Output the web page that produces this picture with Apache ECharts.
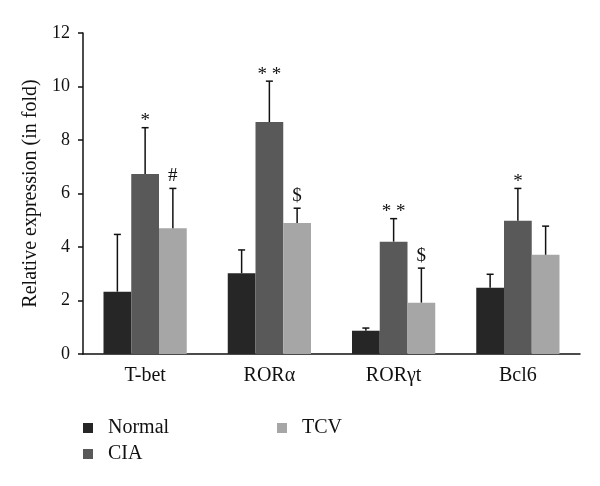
<!DOCTYPE html>
<html>
<head>
<meta charset="utf-8">
<script src="https://cdn.jsdelivr.net/npm/echarts@6/dist/echarts.min.js"></script>
<style>html,body{margin:0;padding:0;background:#fff;}#c{width:600px;height:486px;}</style>
</head>
<body>
<div id="c"></div>
<script>
var categories = ['T-bet', 'ROR\u03b1', 'ROR\u03b3t', 'Bcl6'];
var seriesNames = ['Normal', 'CIA', 'TCV'];
var normalVals = [2.33, 3.02, 0.87, 2.48];
var ciaVals = [6.73, 8.67, 4.20, 4.98];
var tcvVals = [4.70, 4.90, 1.92, 3.71];
var normalErr = [4.47, 3.89, 0.97, 2.98];
var ciaErr = [8.46, 10.20, 5.06, 6.19];
var tcvErr = [6.19, 5.45, 3.21, 4.78];
var normalMarks = ['', '', '', ''];
var ciaMarks = ['*', '* *', '* *', '*'];
var tcvMarks = ['#', '$', '$', ''];
var yTicks = [0, 2, 4, 6, 8, 10, 12];

var colors = ['#262626', '#595959', '#a6a6a6'];
var vals = [normalVals, ciaVals, tcvVals];
var errs = [normalErr, ciaErr, tcvErr];
var marks = [normalMarks, ciaMarks, tcvMarks];
var FONT = '"Liberation Serif", "DejaVu Serif", serif';
var gapRatio = 0.33;

var series = [];
for (var s = 0; s < 3; s++) {
  series.push({
    name: seriesNames[s], type: 'bar', data: vals[s],
    barGap: '0%', barCategoryGap: (gapRatio * 100) + '%',
    itemStyle: { color: colors[s] }, z: 2
  });
}
for (var s2 = 0; s2 < 3; s2++) {
  (function (si) {
    var d = [];
    for (var i = 0; i < categories.length; i++) d.push([i, vals[si][i], errs[si][i], marks[si][i]]);
    series.push({
      type: 'custom', data: d, z: 5, silent: true,
      encode: { x: 0, y: [1, 2] },
      renderItem: function (params, api) {
        var ci = api.value(0);
        var band = api.size([1, 0])[0];
        var bw = band * (1 - gapRatio) / 3;
        var off = (si - 1) * bw;
        var pLow = api.coord([ci, api.value(1)]);
        var pHigh = api.coord([ci, api.value(2)]);
        var x = pLow[0] + off;
        var cap = 3.5;
        var st = { stroke: '#111', lineWidth: 1.5 };
        var children = [
          { type: 'line', shape: { x1: x, y1: pLow[1], x2: x, y2: pHigh[1] }, style: st },
          { type: 'line', shape: { x1: x - cap, y1: pHigh[1], x2: x + cap, y2: pHigh[1] }, style: st }
        ];
        var m = d[params.dataIndex][3];
        if (m) {
          var isStar = m.indexOf('*') >= 0;
          children.push({ type: 'text', style: { text: m, x: x, y: pHigh[1] + (isStar ? 3 : -3), align: 'center', verticalAlign: 'bottom', fill: '#111', fontSize: 19, fontFamily: FONT } });
        }
        return { type: 'group', children: children };
      }
    });
  })(s2);
}

var chart = echarts.init(document.getElementById('c'), null, { renderer: 'canvas' });
chart.setOption({
  animation: false,
  backgroundColor: '#fff',
  textStyle: { fontFamily: FONT },
  grid: { left: 83, right: 20, top: 33, bottom: 132, containLabel: false },
  legend: [
    { data: ['Normal', 'CIA'], orient: 'vertical', left: 83, top: 418, padding: 0, itemWidth: 10, itemHeight: 10, itemGap: 6, icon: 'rect',
      textStyle: { fontFamily: FONT, fontSize: 20, color: '#111', padding: [0, 0, 0, 10] } },
    { data: ['TCV'], orient: 'vertical', left: 277, top: 418, padding: 0, itemWidth: 10, itemHeight: 10, icon: 'rect',
      textStyle: { fontFamily: FONT, fontSize: 20, color: '#111', padding: [0, 0, 0, 10] } }
  ],
  xAxis: {
    type: 'category', data: categories,
    axisLine: { lineStyle: { color: '#111', width: 1.5 } },
    axisTick: { show: false },
    axisLabel: { color: '#111', fontSize: 20, fontFamily: FONT, margin: 12 }
  },
  yAxis: {
    type: 'value', min: yTicks[0], max: yTicks[yTicks.length - 1], interval: 2,
    name: 'Relative expression (in fold)', nameLocation: 'middle', nameGap: 36,
    nameTextStyle: { color: '#111', fontSize: 20, fontFamily: FONT },
    axisLine: { show: true, lineStyle: { color: '#111', width: 1.5 } },
    axisTick: { show: true, inside: false, length: 5, lineStyle: { color: '#111', width: 1.5 } },
    axisLabel: { color: '#111', fontSize: 18, fontFamily: FONT, margin: 13 },
    splitLine: { show: false }
  },
  series: series
});
</script>
</body>
</html>
